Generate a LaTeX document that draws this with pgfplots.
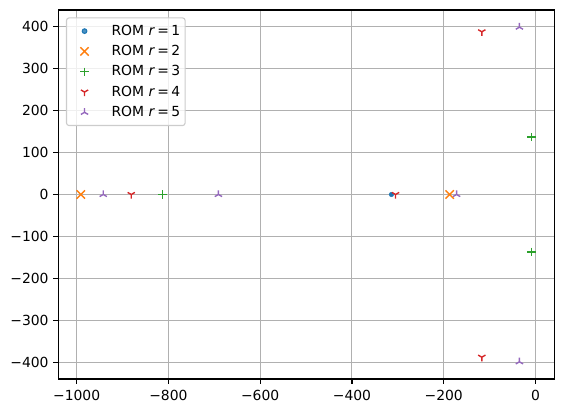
\documentclass[border=0pt]{standalone}
\usepackage{fontspec}
\setmainfont{DejaVu Sans}
\usepackage{pgfplots}
\pgfplotsset{compat=1.18}
\usetikzlibrary{plotmarks}

\definecolor{C0}{HTML}{1F77B4}
\definecolor{C1}{HTML}{FF7F0E}
\definecolor{C2}{HTML}{2CA02C}
\definecolor{C3}{HTML}{D62728}
\definecolor{C4}{HTML}{9467BD}
\definecolor{gridgray}{HTML}{B0B0B0}
\definecolor{legedge}{HTML}{CCCCCC}

\pgfplotsset{
    legmark/.style={legend image code/.code={
        \path[draw=none,fill=none] (0pt,-5pt) rectangle (30pt,5pt);
        \draw[##1] plot coordinates {(15pt,0pt)};
    }},
}

\begin{document}
\fontsize{13.9}{16}\selectfont
\begin{tikzpicture}
\begin{axis}[
    scale only axis,
    width=496pt, height=369pt,
    xmin=-1040, xmax=41,
    ymin=-440, ymax=440,
    axis line style={line width=1.1pt},
    xtick={-1000,-800,-600,-400,-200,0},
    xticklabels={−1000,−800,−600,−400,−200,0},
    ytick={-400,-300,-200,-100,0,100,200,300,400},
    yticklabels={−400,−300,−200,−100,0,100,200,300,400},
    tick align=outside,
    tick pos=left,
    major tick length=4.9pt,
    tick style={line width=1.1pt,black},
    tick label style={font=\fontsize{13.9}{16}\selectfont},
    xticklabel style={yshift=-1pt},
    grid=major,
    major grid style={gridgray,line width=1pt},
    legend cell align=left,
    legend style={
        at={(0.0155,0.980)}, anchor=north west,
        draw=legedge, line width=1.1pt, rounded corners=2.5pt,
        fill=white, fill opacity=0.8, text opacity=1,
        font=\fontsize{13.9}{16}\selectfont,
        row sep=3.9pt, inner xsep=3pt, inner ysep=5pt,
        /tikz/every even column/.append style={column sep=6pt},
        /tikz/every odd column/.append style={column sep=10pt},
    },
]
\addplot[only marks, mark=*, mark size=2.3pt, color=C0, legmark] coordinates {
(-314, 0)
};
\addlegendentry{ROM \textit{r}\,=\,1}
\addplot[only marks, mark=x, mark size=5.9pt, color=C1, mark options={line width=1.4pt}, legmark] coordinates {
(-991, 0)
(-187, 0)
};
\addlegendentry{ROM \textit{r}\,=\,2}
\addplot[only marks, mark=+, mark size=4.2pt, color=C2, mark options={line width=1.4pt}, legmark] coordinates {
(-813, 0)
(-9, 137)
(-9, -137)
};
\addlegendentry{ROM \textit{r}\,=\,3}
\addplot[only marks, mark=Mercedes star flipped, mark size=4.2pt, color=C3, mark options={line width=1.4pt}, legmark] coordinates {
(-881, 0)
(-305, 0)
(-117, 388)
(-117, -388)
};
\addlegendentry{ROM \textit{r}\,=\,4}
\addplot[only marks, mark=Mercedes star, mark size=4.2pt, color=C4, mark options={line width=1.4pt}, legmark] coordinates {
(-942, 0)
(-691, 0)
(-172, 0)
(-35, 399)
(-35, -399)
};
\addlegendentry{ROM \textit{r}\,=\,5}
\path (rel axis cs:0,0) coordinate (ll);
\path (rel axis cs:1,1) coordinate (ur);
\end{axis}
\path ([xshift=-58.3pt,yshift=-33.7pt]ll) rectangle ([xshift=8.7pt,yshift=10pt]ur);
\end{tikzpicture}
\end{document}
